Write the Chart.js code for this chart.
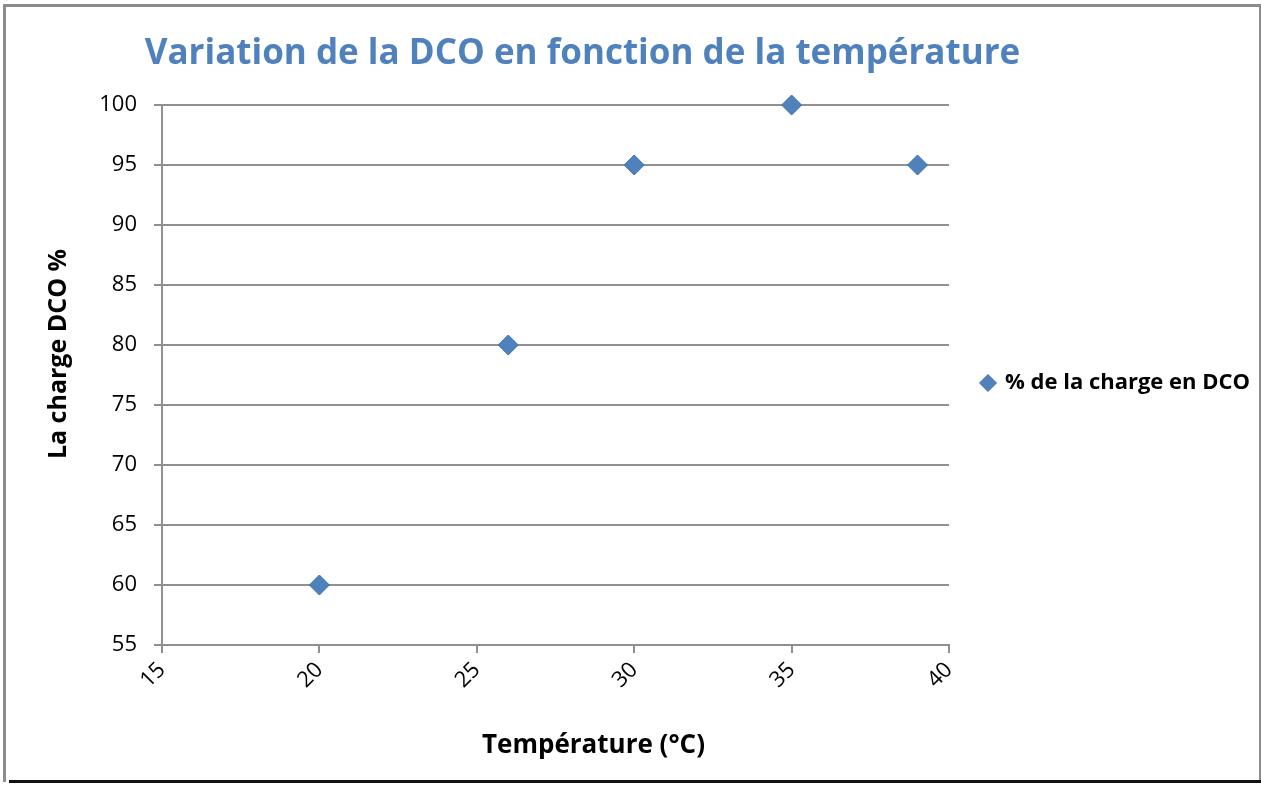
<!DOCTYPE html>
<html>
<head>
<meta charset="utf-8">
<script src="https://cdn.jsdelivr.net/npm/chart.js@4/dist/chart.umd.min.js"></script>
<style>
    html, body { margin: 0; padding: 0; background: #fff; }
    #wrap { position: relative; width: 1261px; height: 786px; overflow: hidden; }
    #frame { position: absolute; left: 3px; top: 4px; width: 1253px; height: 775px;
             border: 3px solid #8c8c8c; border-bottom: none; }
    #bottomLine { position: absolute; left: 9px; top: 780px; width: 1252px; height: 3px; background: #111; }
    .label { position: absolute; text-align: center; white-space: nowrap; font-family: "Open Sans", sans-serif; font-weight: bold; }
    #chartTitle { left: 140px; top: 31px; width: 885px; font-size: 35px; line-height: 40px; color: #4f81bd; }
    #xTitle { left: 432px; top: 728px; width: 323px; font-size: 26px; line-height: 30px; color: #000; }
    #yTitle { left: -94px; top: 339px; width: 300px; font-size: 25px; line-height: 30px; color: #000;
              transform: rotate(-90deg); }
    canvas { position: absolute; left: 0; top: 0; }
</style>
</head>
<body>
<div id="wrap">
    <div id="frame"></div>
    <div id="bottomLine"></div>
    <canvas id="dcoChart" width="1261" height="786"></canvas>
    <div id="chartTitle" class="label">Variation de la DCO en fonction de la température</div>
    <div id="xTitle" class="label">Température (°C)</div>
    <div id="yTitle" class="label">La charge DCO %</div>
</div>
<script>
// === Data ===
const seriesLabel = "% de la charge en DCO";
const temperatures = [20, 26, 30, 35, 39];
const chargeDCO = [60, 80, 95, 100, 95];
const xTicks = [15, 20, 25, 30, 35, 40];
const yTicks = [55, 60, 65, 70, 75, 80, 85, 90, 95, 100];

const blue = "#4f81bd";
const gridGray = "#909090";
const fontFamily = "'Open Sans', sans-serif";

const points = temperatures.map((t, i) => ({ x: t, y: chargeDCO[i] }));

// keep the legend column at a fixed width so the plot area ends where it should
const legendFit = {
    id: "legendFit",
    beforeLayout(chart) {
        const legend = chart.legend;
        if (legend && !legend._fixedFit) {
            const fit = legend.fit;
            legend.fit = function () { fit.call(this); this.width = 312; };
            legend._fixedFit = true;
        }
    },
    afterLayout(chart) {
        chart.legend.top += 8;
        chart.legend.bottom += 8;
    }
};

new Chart(document.getElementById("dcoChart"), {
    type: "scatter",
    data: {
        datasets: [{
            label: seriesLabel,
            data: points,
            pointStyle: "rectRot",
            pointRadius: 10,
            pointHoverRadius: 10,
            backgroundColor: blue,
            borderColor: "#41709f",
            borderWidth: 1,
            clip: false
        }]
    },
    options: {
        responsive: false,
        animation: false,
        layout: { padding: { top: 105, right: 0, bottom: 0, left: 0 } },
        plugins: {
            title: { display: false },
            tooltip: { enabled: false },
            legend: {
                position: "right",
                fullSize: false,
                labels: {
                    usePointStyle: true,
                    boxWidth: 12,
                    boxHeight: 12,
                    padding: 33,
                    color: "#000",
                    font: { family: fontFamily, size: 22, weight: "bold" }
                }
            }
        },
        scales: {
            x: {
                type: "linear",
                min: xTicks[0],
                max: xTicks[xTicks.length - 1],
                afterBuildTicks: (axis) => { axis.ticks = xTicks.map(v => ({ value: v })); },
                afterFit: (axis) => { axis.height = 141; },
                ticks: {
                    minRotation: 45,
                    maxRotation: 45,
                    padding: 4,
                    color: "#000",
                    font: { family: fontFamily, size: 22 }
                },
                grid: { drawOnChartArea: false, tickLength: 8, color: gridGray, lineWidth: 2 },
                border: { color: gridGray, width: 2 }
            },
            y: {
                type: "linear",
                min: yTicks[0],
                max: yTicks[yTicks.length - 1],
                afterBuildTicks: (axis) => { axis.ticks = yTicks.map(v => ({ value: v })); },
                afterFit: (axis) => { axis.width = 162; },
                ticks: {
                    padding: 17,
                    color: "#000",
                    font: { family: fontFamily, size: 22 }
                },
                grid: { tickLength: 8, color: gridGray, lineWidth: 2 },
                border: { color: gridGray, width: 2 }
            }
        }
    },
    plugins: [legendFit]
});
</script>
</body>
</html>
